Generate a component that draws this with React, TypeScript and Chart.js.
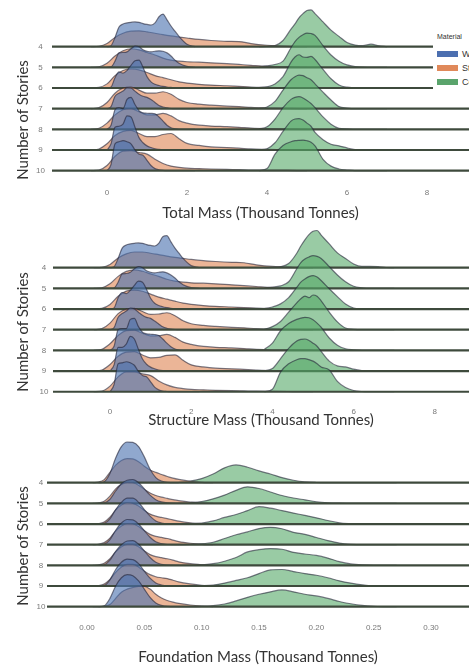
import React, { useEffect, useRef } from 'react';
import { Chart, registerables } from 'chart.js';

Chart.register(...registerables);

// ---------------- data ----------------
const STORIES = ['4', '5', '6', '7', '8', '9', '10'];
const MATERIALS = ['Wood', 'Steel', 'Concrete'];

// Panel 1: Total mass
const TOTAL_TICKS = [0, 2, 4, 6, 8];
const TOTAL_TICK_LABELS = ['0', '2', '4', '6', '8'];
const TOTAL_WOOD_X = [0.0, 0.1, 0.2, 0.3, 0.4, 0.5, 0.6, 0.7, 0.8, 0.9, 1.0, 1.1, 1.2, 1.3, 1.4, 1.5, 1.6, 1.7, 1.8, 2.0, 2.2];
const TOTAL_WOOD = [
  [0, 0.05, 0.45, 0.95, 1.1, 1.15, 1.18, 1.2, 1.18, 1.12, 1.08, 1.05, 1.15, 1.45, 1.58, 1.3, 1.0, 0.75, 0.5, 0.12, 0],
  [0, 0.02, 0.3, 0.7, 0.72, 0.75, 0.9, 1.03, 1.0, 0.85, 0.78, 0.75, 0.78, 0.8, 0.78, 0.7, 0.55, 0.35, 0.2, 0.05, 0],
  [0, 0.05, 0.5, 0.78, 0.72, 0.85, 1.1, 1.32, 1.35, 1.0, 0.55, 0.3, 0.18, 0.12, 0.08, 0.05, 0.03, 0.01, 0, 0, 0],
  [0, 0.1, 0.6, 0.75, 0.85, 1.02, 1.0, 0.85, 0.7, 0.6, 0.55, 0.45, 0.3, 0.15, 0.08, 0.04, 0.01, 0, 0, 0, 0],
  [0, 0.2, 0.95, 1.05, 1.0, 1.45, 1.55, 1.2, 0.9, 0.8, 0.78, 0.77, 0.75, 0.6, 0.4, 0.2, 0.08, 0.03, 0, 0, 0],
  [0, 0.3, 1.1, 1.15, 1.25, 1.65, 1.6, 1.1, 0.6, 0.35, 0.2, 0.12, 0.06, 0.03, 0.01, 0, 0, 0, 0, 0, 0],
  [0, 0.3, 1.3, 1.4, 1.45, 1.4, 1.3, 1.0, 0.8, 0.75, 0.5, 0.25, 0.1, 0.04, 0.01, 0, 0, 0, 0, 0, 0],
];
const TOTAL_STEEL_X = [-0.4, -0.2, 0, 0.2, 0.4, 0.6, 0.8, 1.0, 1.2, 1.4, 1.6, 1.8, 2.0, 2.3, 2.6, 3.0, 3.3, 3.6, 4.0, 4.5, 5.0];
const TOTAL_STEEL = [
  [0, 0.02, 0.15, 0.45, 0.65, 0.75, 0.77, 0.72, 0.65, 0.58, 0.52, 0.47, 0.42, 0.35, 0.3, 0.26, 0.25, 0.15, 0.07, 0.02, 0],
  [0, 0.03, 0.2, 0.55, 0.8, 0.9, 0.85, 0.72, 0.6, 0.45, 0.35, 0.3, 0.27, 0.25, 0.22, 0.18, 0.14, 0.1, 0.05, 0.02, 0],
  [0, 0.03, 0.2, 0.6, 0.85, 0.92, 0.88, 0.75, 0.6, 0.5, 0.4, 0.3, 0.24, 0.18, 0.14, 0.11, 0.08, 0.05, 0.03, 0.01, 0],
  [0, 0.05, 0.3, 0.75, 1.0, 1.05, 0.9, 0.75, 0.75, 0.82, 0.7, 0.45, 0.3, 0.22, 0.17, 0.12, 0.1, 0.06, 0.03, 0.01, 0],
  [0, 0.05, 0.3, 0.7, 0.95, 1.0, 0.85, 0.7, 0.7, 0.77, 0.65, 0.42, 0.3, 0.2, 0.16, 0.13, 0.1, 0.06, 0.03, 0.01, 0],
  [0, 0.05, 0.3, 0.7, 0.9, 0.95, 0.8, 0.65, 0.65, 0.75, 0.8, 0.55, 0.32, 0.22, 0.15, 0.12, 0.09, 0.05, 0.03, 0.01, 0],
  [0, 0.03, 0.25, 0.7, 0.95, 0.97, 0.88, 0.8, 0.55, 0.35, 0.22, 0.16, 0.12, 0.1, 0.08, 0.06, 0.05, 0.03, 0.02, 0.01, 0],
];
const TOTAL_CONCRETE_X = [3.8, 4.0, 4.2, 4.4, 4.6, 4.7, 4.8, 4.9, 5.0, 5.1, 5.2, 5.4, 5.6, 5.8, 6.0, 6.2, 6.4, 6.6, 6.8, 7.0];
const TOTAL_CONCRETE = [
  [0, 0.01, 0.05, 0.3, 0.85, 1.1, 1.4, 1.6, 1.75, 1.78, 1.6, 1.2, 0.8, 0.5, 0.2, 0.08, 0.05, 0.12, 0.04, 0],
  [0.02, 0.07, 0.14, 0.3, 0.95, 1.25, 1.45, 1.58, 1.66, 1.64, 1.55, 1.05, 0.6, 0.3, 0.12, 0.04, 0.01, 0, 0, 0],
  [0.02, 0.06, 0.2, 0.55, 1.25, 1.5, 1.61, 1.5, 1.48, 1.53, 1.38, 0.9, 0.45, 0.15, 0.04, 0.01, 0, 0, 0, 0],
  [0.01, 0.08, 0.35, 0.9, 1.4, 1.55, 1.62, 1.6, 1.5, 1.4, 1.2, 0.8, 0.42, 0.1, 0.03, 0, 0, 0, 0, 0],
  [0.02, 0.12, 0.5, 1.05, 1.45, 1.55, 1.58, 1.52, 1.4, 1.25, 1.05, 0.6, 0.25, 0.05, 0.02, 0, 0, 0, 0, 0],
  [0.01, 0.06, 0.35, 0.9, 1.4, 1.5, 1.52, 1.45, 1.3, 1.15, 0.85, 0.5, 0.28, 0.2, 0.1, 0.02, 0, 0, 0, 0],
  [0, 0.1, 0.8, 1.22, 1.4, 1.45, 1.47, 1.48, 1.45, 1.38, 1.2, 0.55, 0.22, 0.08, 0.03, 0, 0, 0, 0, 0],
];

// Panel 2: Structure mass
const STRUCT_TICKS = [0, 2, 4, 6, 8];
const STRUCT_TICK_LABELS = ['0', '2', '4', '6', '8'];
const STRUCT_WOOD_X = [0.0, 0.1, 0.2, 0.3, 0.4, 0.5, 0.6, 0.7, 0.8, 0.9, 1.0, 1.1, 1.2, 1.3, 1.4, 1.5, 1.6, 1.7, 1.8, 2.0, 2.2];
const STRUCT_WOOD = [
  [0, 0.05, 0.45, 0.95, 1.1, 1.15, 1.18, 1.2, 1.18, 1.12, 1.08, 1.05, 1.18, 1.5, 1.55, 1.25, 0.95, 0.7, 0.45, 0.1, 0],
  [0, 0.02, 0.3, 0.7, 0.72, 0.78, 0.95, 1.05, 1.0, 0.85, 0.78, 0.75, 0.78, 0.8, 0.75, 0.65, 0.5, 0.32, 0.18, 0.04, 0],
  [0, 0.05, 0.55, 0.8, 0.75, 0.9, 1.15, 1.35, 1.3, 0.95, 0.52, 0.28, 0.17, 0.11, 0.07, 0.04, 0.02, 0.01, 0, 0, 0],
  [0, 0.1, 0.6, 0.78, 0.9, 1.05, 1.0, 0.85, 0.7, 0.6, 0.55, 0.42, 0.28, 0.14, 0.07, 0.03, 0.01, 0, 0, 0, 0],
  [0, 0.2, 1.0, 1.05, 1.05, 1.5, 1.55, 1.15, 0.88, 0.8, 0.78, 0.77, 0.72, 0.55, 0.35, 0.18, 0.07, 0.02, 0, 0, 0],
  [0, 0.3, 1.15, 1.15, 1.3, 1.68, 1.55, 1.05, 0.58, 0.33, 0.19, 0.11, 0.05, 0.02, 0.01, 0, 0, 0, 0, 0, 0],
  [0, 0.35, 1.35, 1.4, 1.45, 1.4, 1.28, 0.98, 0.78, 0.72, 0.48, 0.22, 0.09, 0.03, 0.01, 0, 0, 0, 0, 0, 0],
];
const STRUCT_STEEL_X = [-0.4, -0.2, 0, 0.2, 0.4, 0.6, 0.8, 1.0, 1.2, 1.4, 1.6, 1.8, 2.0, 2.3, 2.6, 3.0, 3.3, 3.6, 4.0, 4.5, 5.0];
const STRUCT_STEEL = [
  [0, 0.02, 0.16, 0.47, 0.67, 0.76, 0.76, 0.7, 0.63, 0.56, 0.5, 0.45, 0.4, 0.34, 0.3, 0.26, 0.24, 0.14, 0.06, 0.02, 0],
  [0, 0.03, 0.22, 0.58, 0.82, 0.9, 0.83, 0.7, 0.58, 0.44, 0.35, 0.3, 0.27, 0.25, 0.22, 0.17, 0.13, 0.09, 0.04, 0.01, 0],
  [0, 0.03, 0.22, 0.62, 0.87, 0.92, 0.86, 0.72, 0.58, 0.48, 0.38, 0.29, 0.23, 0.17, 0.13, 0.1, 0.07, 0.05, 0.02, 0.01, 0],
  [0, 0.05, 0.32, 0.78, 1.0, 1.03, 0.88, 0.74, 0.76, 0.82, 0.68, 0.43, 0.29, 0.21, 0.16, 0.11, 0.09, 0.05, 0.03, 0.01, 0],
  [0, 0.05, 0.32, 0.72, 0.96, 0.98, 0.83, 0.7, 0.71, 0.77, 0.63, 0.4, 0.29, 0.19, 0.15, 0.12, 0.09, 0.05, 0.02, 0.01, 0],
  [0, 0.05, 0.32, 0.72, 0.92, 0.94, 0.78, 0.64, 0.66, 0.76, 0.78, 0.52, 0.3, 0.2, 0.14, 0.11, 0.08, 0.05, 0.02, 0.01, 0],
  [0, 0.03, 0.27, 0.72, 0.96, 0.96, 0.86, 0.78, 0.52, 0.33, 0.21, 0.15, 0.11, 0.09, 0.07, 0.05, 0.04, 0.03, 0.02, 0.01, 0],
];
const STRUCT_CONCRETE_X = [3.8, 4.0, 4.2, 4.4, 4.6, 4.7, 4.8, 4.9, 5.0, 5.1, 5.2, 5.4, 5.6, 5.8, 6.0, 6.2, 6.4, 6.6, 6.8, 7.0];
const STRUCT_CONCRETE = [
  [0, 0.01, 0.05, 0.2, 0.7, 1.05, 1.35, 1.6, 1.76, 1.8, 1.58, 1.15, 0.72, 0.45, 0.18, 0.06, 0.06, 0.05, 0.01, 0],
  [0.03, 0.06, 0.12, 0.32, 0.95, 1.25, 1.42, 1.52, 1.58, 1.55, 1.45, 1.05, 0.65, 0.32, 0.1, 0.03, 0, 0, 0, 0],
  [0.02, 0.1, 0.25, 0.55, 1.05, 1.3, 1.45, 1.57, 1.62, 1.55, 1.38, 0.98, 0.6, 0.24, 0.05, 0.01, 0, 0, 0, 0],
  [0.02, 0.15, 0.4, 0.85, 1.3, 1.5, 1.63, 1.55, 1.68, 1.62, 1.4, 0.85, 0.38, 0.08, 0.02, 0, 0, 0, 0, 0],
  [0.05, 0.35, 0.95, 1.3, 1.5, 1.56, 1.6, 1.58, 1.48, 1.32, 1.12, 0.6, 0.25, 0.08, 0.03, 0, 0, 0, 0, 0],
  [0.02, 0.12, 0.6, 1.1, 1.45, 1.53, 1.55, 1.48, 1.35, 1.2, 0.95, 0.48, 0.25, 0.2, 0.09, 0.02, 0, 0, 0, 0],
  [0, 0.12, 0.95, 1.35, 1.55, 1.6, 1.6, 1.55, 1.48, 1.35, 1.2, 1.05, 0.5, 0.2, 0.06, 0.01, 0, 0, 0, 0],
];

// Panel 3: Foundation mass
const FOUND_TICKS = [0, 0.05, 0.1, 0.15, 0.2, 0.25, 0.3];
const FOUND_TICK_LABELS = ['0.00', '0.05', '0.10', '0.15', '0.20', '0.25', '0.30'];
const FOUND_WOOD_X = [0.01, 0.015, 0.02, 0.025, 0.03, 0.035, 0.04, 0.045, 0.05, 0.055, 0.06, 0.065, 0.07, 0.08];
const FOUND_WOOD = [
  [0, 0.05, 0.45, 1.2, 1.75, 1.97, 1.95, 1.75, 1.25, 0.65, 0.25, 0.08, 0.02, 0],
  [0, 0.02, 0.2, 0.6, 0.95, 1.12, 1.15, 1.0, 0.7, 0.4, 0.18, 0.07, 0.02, 0],
  [0, 0.03, 0.25, 0.7, 1.05, 1.25, 1.25, 1.05, 0.7, 0.38, 0.15, 0.05, 0.01, 0],
  [0, 0.03, 0.25, 0.7, 1.05, 1.22, 1.2, 1.0, 0.68, 0.36, 0.14, 0.05, 0.01, 0],
  [0, 0.03, 0.25, 0.68, 1.0, 1.18, 1.2, 1.02, 0.7, 0.38, 0.15, 0.05, 0.01, 0],
  [0, 0.03, 0.3, 0.8, 1.15, 1.3, 1.28, 1.08, 0.72, 0.38, 0.15, 0.05, 0.01, 0],
  [0, 0.04, 0.4, 1.0, 1.4, 1.55, 1.5, 1.25, 0.85, 0.45, 0.18, 0.06, 0.01, 0],
];
const FOUND_STEEL_X = [0.005, 0.01, 0.015, 0.02, 0.025, 0.03, 0.035, 0.04, 0.045, 0.05, 0.055, 0.06, 0.065, 0.07, 0.075, 0.08, 0.09, 0.1, 0.11];
const FOUND_STEEL = [
  [0, 0.03, 0.15, 0.5, 0.85, 1.08, 1.17, 1.15, 1.02, 0.8, 0.62, 0.5, 0.4, 0.3, 0.22, 0.16, 0.07, 0.02, 0],
  [0, 0.02, 0.1, 0.35, 0.7, 0.92, 1.02, 1.0, 0.88, 0.68, 0.5, 0.38, 0.3, 0.24, 0.18, 0.13, 0.06, 0.02, 0],
  [0, 0.02, 0.1, 0.33, 0.68, 0.92, 1.03, 1.0, 0.87, 0.66, 0.48, 0.38, 0.32, 0.26, 0.2, 0.14, 0.06, 0.02, 0],
  [0, 0.02, 0.1, 0.32, 0.66, 0.9, 1.02, 1.0, 0.88, 0.68, 0.5, 0.4, 0.35, 0.3, 0.22, 0.15, 0.07, 0.02, 0],
  [0, 0.02, 0.1, 0.32, 0.65, 0.9, 1.02, 1.02, 0.9, 0.7, 0.52, 0.42, 0.37, 0.32, 0.25, 0.17, 0.08, 0.03, 0],
  [0, 0.02, 0.1, 0.32, 0.66, 0.92, 1.05, 1.05, 0.92, 0.72, 0.55, 0.45, 0.4, 0.36, 0.28, 0.2, 0.1, 0.03, 0],
  [0, 0, 0.02, 0.1, 0.4, 0.7, 0.85, 0.93, 0.98, 0.98, 0.85, 0.6, 0.42, 0.3, 0.22, 0.16, 0.08, 0.03, 0],
];
const FOUND_CONCRETE_X = [0.08, 0.09, 0.1, 0.11, 0.12, 0.13, 0.14, 0.15, 0.16, 0.17, 0.18, 0.19, 0.2, 0.21, 0.22, 0.23, 0.24, 0.25, 0.26, 0.27];
const FOUND_CONCRETE = [
  [0.02, 0.08, 0.2, 0.42, 0.72, 0.86, 0.75, 0.57, 0.42, 0.25, 0.12, 0.04, 0.01, 0, 0, 0, 0, 0, 0, 0],
  [0.02, 0.04, 0.09, 0.22, 0.4, 0.63, 0.8, 0.72, 0.55, 0.38, 0.26, 0.17, 0.08, 0.03, 0.01, 0, 0, 0, 0, 0],
  [0.01, 0.02, 0.05, 0.15, 0.32, 0.46, 0.65, 0.84, 0.77, 0.65, 0.53, 0.42, 0.3, 0.17, 0.06, 0.02, 0, 0, 0, 0],
  [0, 0.01, 0.04, 0.12, 0.3, 0.48, 0.62, 0.78, 0.84, 0.77, 0.6, 0.5, 0.35, 0.2, 0.08, 0.02, 0, 0, 0, 0],
  [0, 0.01, 0.02, 0.08, 0.2, 0.38, 0.65, 0.76, 0.81, 0.78, 0.63, 0.55, 0.48, 0.35, 0.18, 0.07, 0.02, 0, 0, 0],
  [0, 0.01, 0.02, 0.05, 0.14, 0.27, 0.4, 0.6, 0.78, 0.8, 0.7, 0.6, 0.52, 0.4, 0.25, 0.14, 0.06, 0.01, 0, 0],
  [0, 0, 0.01, 0.05, 0.13, 0.28, 0.45, 0.6, 0.72, 0.81, 0.72, 0.6, 0.52, 0.4, 0.25, 0.14, 0.06, 0.02, 0, 0],
];

// ---------------- styles ----------------
const FILLS = ['rgba(76,114,176,0.62)', 'rgba(221,132,82,0.6)', 'rgba(85,168,104,0.6)'];
const SWATCHES = ['#4c6fb0', '#e0895a', '#5aa46c'];
const EDGE = 'rgba(35,35,55,0.6)';
const BASELINE = '#3e4a3c';
const TICK_FONT = { family: 'Liberation Sans', size: 8 };
const TITLE_FONT = { family: 'Lato', size: 15, lineHeight: 1.2 };
// seaborn draws hue levels in reverse: Concrete, Steel, then Wood on top
const DRAW_SEQ = [2, 1, 0];

type PanelCfg = {
  top: number; h: number; padTop: number; yAxisW: number; xAxisH: number;
  xMin: number; xMax: number; yMin: number; yMax: number;
  xTickPad: number; yTickPad: number; titlePadBottom: number;
  ticks: number[]; tickLabels: string[]; title: string;
  series: [number[], number[][]][];
  yTitleY: number;
};

const PANELS: PanelCfg[] = [
  {
    top: 0, h: 222, padTop: 3.3, yAxisW: 52, xAxisH: 41,
    xMin: -1.375, xMax: 9.05, yMin: -0.5, yMax: 8.1,
    xTickPad: 7, yTickPad: 7, titlePadBottom: 0,
    ticks: TOTAL_TICKS, tickLabels: TOTAL_TICK_LABELS, title: 'Total Mass (Thousand Tonnes)',
    series: [[TOTAL_WOOD_X, TOTAL_WOOD], [TOTAL_STEEL_X, TOTAL_STEEL], [TOTAL_CONCRETE_X, TOTAL_CONCRETE]],
    yTitleY: 120,
  },
  {
    top: 222, h: 208, padTop: 2.3, yAxisW: 53, xAxisH: 30,
    xMin: -1.404, xMax: 8.842, yMin: -0.4, yMax: 8.1,
    xTickPad: 7, yTickPad: 4.5, titlePadBottom: 1,
    ticks: STRUCT_TICKS, tickLabels: STRUCT_TICK_LABELS, title: 'Structure Mass (Thousand Tonnes)',
    series: [[STRUCT_WOOD_X, STRUCT_WOOD], [STRUCT_STEEL_X, STRUCT_STEEL], [STRUCT_CONCRETE_X, STRUCT_CONCRETE]],
    yTitleY: 332,
  },
  {
    top: 430, h: 236, padTop: 5.2, yAxisW: 47, xAxisH: 49,
    xMin: -0.03488, xMax: 0.33313, yMin: -0.5, yMax: 8.3,
    xTickPad: 6, yTickPad: 1.5, titlePadBottom: 0,
    ticks: FOUND_TICKS, tickLabels: FOUND_TICK_LABELS, title: 'Foundation Mass (Thousand Tonnes)',
    series: [[FOUND_WOOD_X, FOUND_WOOD], [FOUND_STEEL_X, FOUND_STEEL], [FOUND_CONCRETE_X, FOUND_CONCRETE]],
    yTitleY: 546,
  },
];

function zeroPad(s: any) {
  s.paddingLeft = 0; s.paddingRight = 0; s.paddingTop = 0; s.paddingBottom = 0;
}

function RidgePanel({ cfg }: { cfg: PanelCfg }) {
  const ref = useRef<HTMLCanvasElement | null>(null);
  useEffect(() => {
    if (!ref.current) return;
    const n = STORIES.length;
    const datasets: any[] = [];
    let seq = 0;
    for (let r = 0; r < n; r++) {
      const base = n - 1 - r;
      DRAW_SEQ.forEach((m) => {
        const [xs, rows] = cfg.series[m];
        datasets.push({
          data: xs.map((x, i) => ({ x, y: base + rows[r][i] })),
          fill: { value: base },
          backgroundColor: FILLS[m],
          borderColor: EDGE,
          borderWidth: 1.2,
          pointRadius: 0,
          cubicInterpolationMode: 'monotone',
          clip: false,
          order: 1000 - seq++,
        });
      });
      datasets.push({
        data: [{ x: cfg.xMin, y: base }, { x: cfg.xMax, y: base }],
        fill: false,
        borderColor: BASELINE,
        borderWidth: 2.2,
        pointRadius: 0,
        clip: false,
        order: 1000 - seq++,
      });
    }
    const chart = new Chart(ref.current, {
      type: 'line',
      data: { datasets },
      options: {
        responsive: false,
        animation: false,
        events: [],
        layout: { padding: { top: cfg.padTop, left: 0, right: 0, bottom: 0 } },
        plugins: { legend: { display: false }, tooltip: { enabled: false } },
        scales: {
          x: {
            type: 'linear', min: cfg.xMin, max: cfg.xMax,
            grid: { display: false, drawTicks: false },
            border: { display: false },
            afterBuildTicks: (s: any) => { s.ticks = cfg.ticks.map((v) => ({ value: v })); },
            afterFit: (s: any) => { s.height = cfg.xAxisH; zeroPad(s); },
            ticks: {
              autoSkip: false, maxRotation: 0, minRotation: 0, padding: cfg.xTickPad,
              color: '#7a7a7a', font: TICK_FONT,
              callback: (_v: any, i: number) => cfg.tickLabels[i],
            },
            title: {
              display: true, text: cfg.title, color: '#333333', font: TITLE_FONT,
              padding: { top: 0, bottom: cfg.titlePadBottom },
            },
          },
          y: {
            type: 'linear', min: cfg.yMin, max: cfg.yMax,
            grid: { display: false, drawTicks: false },
            border: { display: false },
            afterBuildTicks: (s: any) => { s.ticks = STORIES.map((_, i) => ({ value: i })); },
            afterFit: (s: any) => { s.width = cfg.yAxisW; zeroPad(s); },
            ticks: {
              autoSkip: false, padding: cfg.yTickPad, crossAlign: 'center',
              color: '#7a7a7a', font: TICK_FONT,
              callback: (v: any) => STORIES[n - 1 - Math.round(v)],
            },
          },
        },
      } as any,
    });
    return () => chart.destroy();
  }, [cfg]);
  return (
    <canvas
      ref={ref}
      width={469}
      height={cfg.h}
      style={{ position: 'absolute', left: 0, top: cfg.top, width: 469, height: cfg.h }}
    />
  );
}

export default function App() {
  return (
    <div style={{ position: 'fixed', left: 0, top: 0, width: 469, height: 666, overflow: 'hidden', background: '#fff' }}>
      {PANELS.map((p, i) => (
        <RidgePanel key={i} cfg={p} />
      ))}
      {PANELS.map((p, i) => (
        <div
          key={'yt' + i}
          style={{
            position: 'absolute', left: 22, top: p.yTitleY,
            transform: 'translate(-50%, -50%) rotate(-90deg)',
            whiteSpace: 'nowrap', fontFamily: 'Lato', fontSize: 15, color: '#333',
          }}
        >
          Number of Stories
        </div>
      ))}
      <div style={{ position: 'absolute', left: 433, top: 28, width: 60, height: 64, background: '#fff', fontFamily: 'Liberation Sans', color: '#333' }}>
        <div style={{ position: 'absolute', left: 4, top: 5, fontSize: 7, whiteSpace: 'nowrap' }}>Material</div>
        {MATERIALS.map((m, i) => (
          <div key={m} style={{ position: 'absolute', left: 4, top: 20.5 + i * 14, height: 10, display: 'flex', alignItems: 'center', whiteSpace: 'nowrap' }}>
            <div style={{ width: 21, height: 6, background: SWATCHES[i] }} />
            <span style={{ marginLeft: 4, fontSize: 9 }}>{m}</span>
          </div>
        ))}
      </div>
    </div>
  );
}
